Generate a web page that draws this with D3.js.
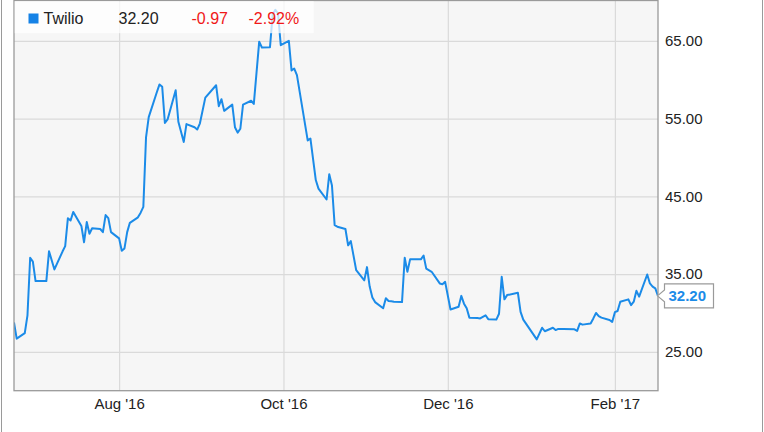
<!DOCTYPE html>
<html>
<head>
<meta charset="utf-8">
<script src="https://cdn.jsdelivr.net/npm/d3@7"></script>
<style>
  html, body { margin: 0; padding: 0; background: #ffffff; }
  svg { display: block; font-family: "Liberation Sans", Arial, sans-serif; }
</style>
</head>
<body>
<svg id="chart" width="764" height="432"></svg>
<script>
// ---- data ----
const seriesName = "Twilio";
const lastValue = "32.20";
const changeAbs = "-0.97";
const changePct = "-2.92%";

const dates = [
  "2016-06-23","2016-06-24","2016-06-27","2016-06-28","2016-06-29","2016-06-30","2016-07-01","2016-07-05",
  "2016-07-06","2016-07-08","2016-07-11","2016-07-12","2016-07-13","2016-07-14","2016-07-15","2016-07-18",
  "2016-07-19","2016-07-20","2016-07-21","2016-07-22","2016-07-25","2016-07-26","2016-07-27","2016-07-28",
  "2016-07-29","2016-08-01","2016-08-02","2016-08-03","2016-08-04","2016-08-05","2016-08-08","2016-08-09",
  "2016-08-10","2016-08-11","2016-08-12","2016-08-15","2016-08-16","2016-08-17","2016-08-18","2016-08-19",
  "2016-08-22","2016-08-23","2016-08-25","2016-08-26","2016-08-29","2016-08-30","2016-08-31","2016-09-02",
  "2016-09-06","2016-09-07","2016-09-08","2016-09-09","2016-09-12","2016-09-13","2016-09-14","2016-09-15",
  "2016-09-16","2016-09-19","2016-09-20","2016-09-22","2016-09-23","2016-09-26","2016-09-27","2016-09-28",
  "2016-09-29","2016-09-30","2016-10-03","2016-10-04","2016-10-05","2016-10-06","2016-10-10","2016-10-11",
  "2016-10-13","2016-10-14","2016-10-17","2016-10-18","2016-10-19","2016-10-20","2016-10-21","2016-10-24",
  "2016-10-25","2016-10-26","2016-10-28","2016-10-31","2016-11-01","2016-11-02","2016-11-03","2016-11-04",
  "2016-11-07","2016-11-08","2016-11-09","2016-11-10","2016-11-11","2016-11-14","2016-11-15","2016-11-16",
  "2016-11-17","2016-11-18","2016-11-21","2016-11-22","2016-11-23","2016-11-25","2016-11-28","2016-11-29",
  "2016-11-30","2016-12-02","2016-12-05","2016-12-06","2016-12-07","2016-12-08","2016-12-09","2016-12-12",
  "2016-12-13","2016-12-14","2016-12-15","2016-12-16","2016-12-19","2016-12-20","2016-12-21","2016-12-22",
  "2016-12-23","2016-12-27","2016-12-28","2016-12-29","2017-01-03","2017-01-05","2017-01-06","2017-01-09",
  "2017-01-10","2017-01-11","2017-01-12","2017-01-13","2017-01-17","2017-01-18","2017-01-19","2017-01-20",
  "2017-01-23","2017-01-24","2017-01-25","2017-01-26","2017-01-27","2017-01-30","2017-01-31","2017-02-01",
  "2017-02-02","2017-02-03","2017-02-06","2017-02-07","2017-02-08","2017-02-09","2017-02-10","2017-02-13",
  "2017-02-14","2017-02-15","2017-02-16","2017-02-17"
];

const prices = [
  28.79, 26.7, 27.4, 29.7, 37.1, 36.6, 34.1, 34.1,
  37.95, 35.6, 37.9, 38.6, 42.2, 41.9, 43.0, 41.2,
  39.1, 41.7, 40.2, 40.9, 40.8, 40.4, 42.6, 42.2,
  40.4, 39.6, 38.0, 38.3, 40.4, 41.6, 42.3, 42.9,
  43.65, 52.6, 55.2, 58.4, 59.4, 59.1, 54.45, 54.9,
  58.65, 54.6, 52.0, 54.3, 53.9, 53.6, 54.4, 57.7,
  59.3, 56.6, 57.5, 56.0, 56.8, 53.9, 53.2, 53.7,
  56.8, 57.3, 56.9, 64.9, 64.15, 64.2, 68.4, 69.0,
  68.5, 64.45, 65.0, 61.2, 61.45, 60.6, 52.2, 52.45,
  47.1, 46.0, 44.6, 47.85, 46.4, 41.3, 41.1, 40.8,
  38.7, 39.25, 35.5, 34.2, 35.9, 33.4, 32.0, 31.4,
  30.6, 31.9, 31.55, 31.5, 31.45, 31.4, 37.1, 35.3,
  36.9, 36.9, 36.9, 37.4, 35.7, 35.3, 33.8, 33.7,
  34.0, 30.45, 30.8, 32.2, 31.2, 30.6, 29.4, 29.35,
  29.3, 29.5, 29.7, 29.2, 29.15, 29.9, 34.65, 31.75,
  32.3, 32.6, 30.15, 29.15, 26.6, 28.1, 27.65, 28.1,
  27.8, 27.95, 27.95, 27.95, 27.9, 27.7, 28.65, 28.5,
  28.65, 29.3, 30.0, 29.6, 29.4, 29.1, 28.85, 30.1,
  30.25, 31.45, 31.75, 31.0, 31.45, 32.85, 32.1, 34.95,
  33.8, 33.4, 33.17, 32.20
];

const yTicks = [25, 35, 45, 55, 65];
const xTickDates = ["2016-08-01", "2016-10-01", "2016-12-01", "2017-02-01"];
const xDomain = ["2016-06-23", "2017-02-17"];
const yDomain = [20, 70.2];

// ---- drawing ----
const parse = d3.timeParse("%Y-%m-%d");
const data = dates.map((d, i) => ({ date: parse(d), value: prices[i] }));

const plot = { left: 14, right: 658, top: 0.5, bottom: 390.7 };
const lineColor = "#1b8be8";

const svg = d3.select("#chart");

const x = d3.scaleTime().domain(xDomain.map(parse)).range([plot.left, plot.right]);
const y = d3.scaleLinear().domain(yDomain).range([plot.bottom, plot.top]);

// outer frame lines
svg.append("line").attr("x1", 1.5).attr("x2", 1.5).attr("y1", 0).attr("y2", 432)
  .attr("stroke", "#9a9a9a").attr("stroke-width", 1);
svg.append("line").attr("x1", 762.5).attr("x2", 762.5).attr("y1", 0).attr("y2", 432)
  .attr("stroke", "#9a9a9a").attr("stroke-width", 1);

// plot background
svg.append("rect")
  .attr("x", plot.left).attr("y", plot.top)
  .attr("width", plot.right - plot.left).attr("height", plot.bottom - plot.top)
  .attr("fill", "#f6f6f6");

// gridlines via axes
const gridY = svg.append("g")
  .attr("transform", `translate(${plot.left},0)`)
  .call(d3.axisLeft(y).tickValues(yTicks).tickSize(-(plot.right - plot.left)).tickFormat(""));
gridY.select(".domain").remove();
gridY.selectAll(".tick line").attr("stroke", "#dadada").attr("stroke-width", 1.2);

const xTicks = xTickDates.map(parse);
const gridX = svg.append("g")
  .attr("transform", `translate(0,${plot.bottom})`)
  .call(d3.axisBottom(x).tickValues(xTicks).tickSize(-(plot.bottom - plot.top)).tickFormat(""));
gridX.select(".domain").remove();
gridX.selectAll(".tick line").attr("stroke", "#dadada").attr("stroke-width", 1.2);

// line
svg.append("defs").append("clipPath").attr("id", "clip")
  .append("rect").attr("x", plot.left).attr("y", plot.top)
  .attr("width", plot.right - plot.left).attr("height", plot.bottom - plot.top);

svg.append("path")
  .datum(data)
  .attr("clip-path", "url(#clip)")
  .attr("fill", "none")
  .attr("stroke", lineColor)
  .attr("stroke-width", 2)
  .attr("stroke-linejoin", "round")
  .attr("d", d3.line().x(d => x(d.date)).y(d => y(d.value)));

// plot frame
svg.append("rect")
  .attr("x", plot.left).attr("y", plot.top)
  .attr("width", plot.right - plot.left).attr("height", plot.bottom - plot.top)
  .attr("fill", "none").attr("stroke", "#9a9a9a").attr("stroke-width", 1.3);

// y axis labels (right)
const yAxis = svg.append("g")
  .attr("transform", `translate(${plot.right},0)`)
  .call(d3.axisRight(y).tickValues(yTicks).tickFormat(d3.format(".2f")).tickSize(0).tickPadding(7));
yAxis.select(".domain").remove();
yAxis.selectAll("text").attr("font-size", 15).attr("fill", "#222")
  .attr("font-family", "'Liberation Sans', Arial, sans-serif");

// x axis labels
const xAxis = svg.append("g")
  .attr("transform", `translate(0,${plot.bottom})`)
  .call(d3.axisBottom(x).tickValues(xTicks).tickFormat(d3.timeFormat("%b '%y")).tickSize(0).tickPadding(8));
xAxis.select(".domain").remove();
xAxis.selectAll("text").attr("font-size", 15).attr("fill", "#222")
  .attr("font-family", "'Liberation Sans', Arial, sans-serif");

// legend box (semi-transparent)
const leg = svg.append("g");
leg.append("rect").attr("x", plot.left + 0.7).attr("y", 1.2).attr("width", 299).attr("height", 32)
  .attr("fill", "#ffffff").attr("fill-opacity", 0.72);
leg.append("rect").attr("x", 28.5).attr("y", 13.5).attr("width", 10).attr("height", 10)
  .attr("fill", "#1582e6");
const legText = [
  { t: seriesName, x: 43.5, c: "#222" },
  { t: lastValue, x: 118.5, c: "#222" },
  { t: changeAbs, x: 191.5, c: "#f01818" },
  { t: changePct, x: 248.5, c: "#f01818" }
];
leg.selectAll("text.leg").data(legText).enter().append("text")
  .attr("class", "leg")
  .attr("x", d => d.x).attr("y", 24)
  .attr("font-size", 16)
  .attr("fill", d => d.c)
  .text(d => d.t);

// end-value callout
const last = data[data.length - 1];
const ly = y(last.value);
const bx = plot.right + 6.5, bw = 49, bh = 24;
const tip = plot.right - 0.5;
svg.append("path")
  .attr("d", `M${tip},${ly} L${bx},${ly - 6} L${bx},${ly - bh / 2} L${bx + bw},${ly - bh / 2} L${bx + bw},${ly + bh / 2} L${bx},${ly + bh / 2} L${bx},${ly + 6} Z`)
  .attr("fill", "#ffffff").attr("stroke", "#9a9a9a").attr("stroke-width", 1.2);
svg.append("text")
  .attr("x", bx + 4).attr("y", ly).attr("dy", "0.36em")
  .attr("font-size", 15).attr("font-weight", "bold").attr("fill", lineColor)
  .text(d3.format(".2f")(last.value));
</script>
</body>
</html>
